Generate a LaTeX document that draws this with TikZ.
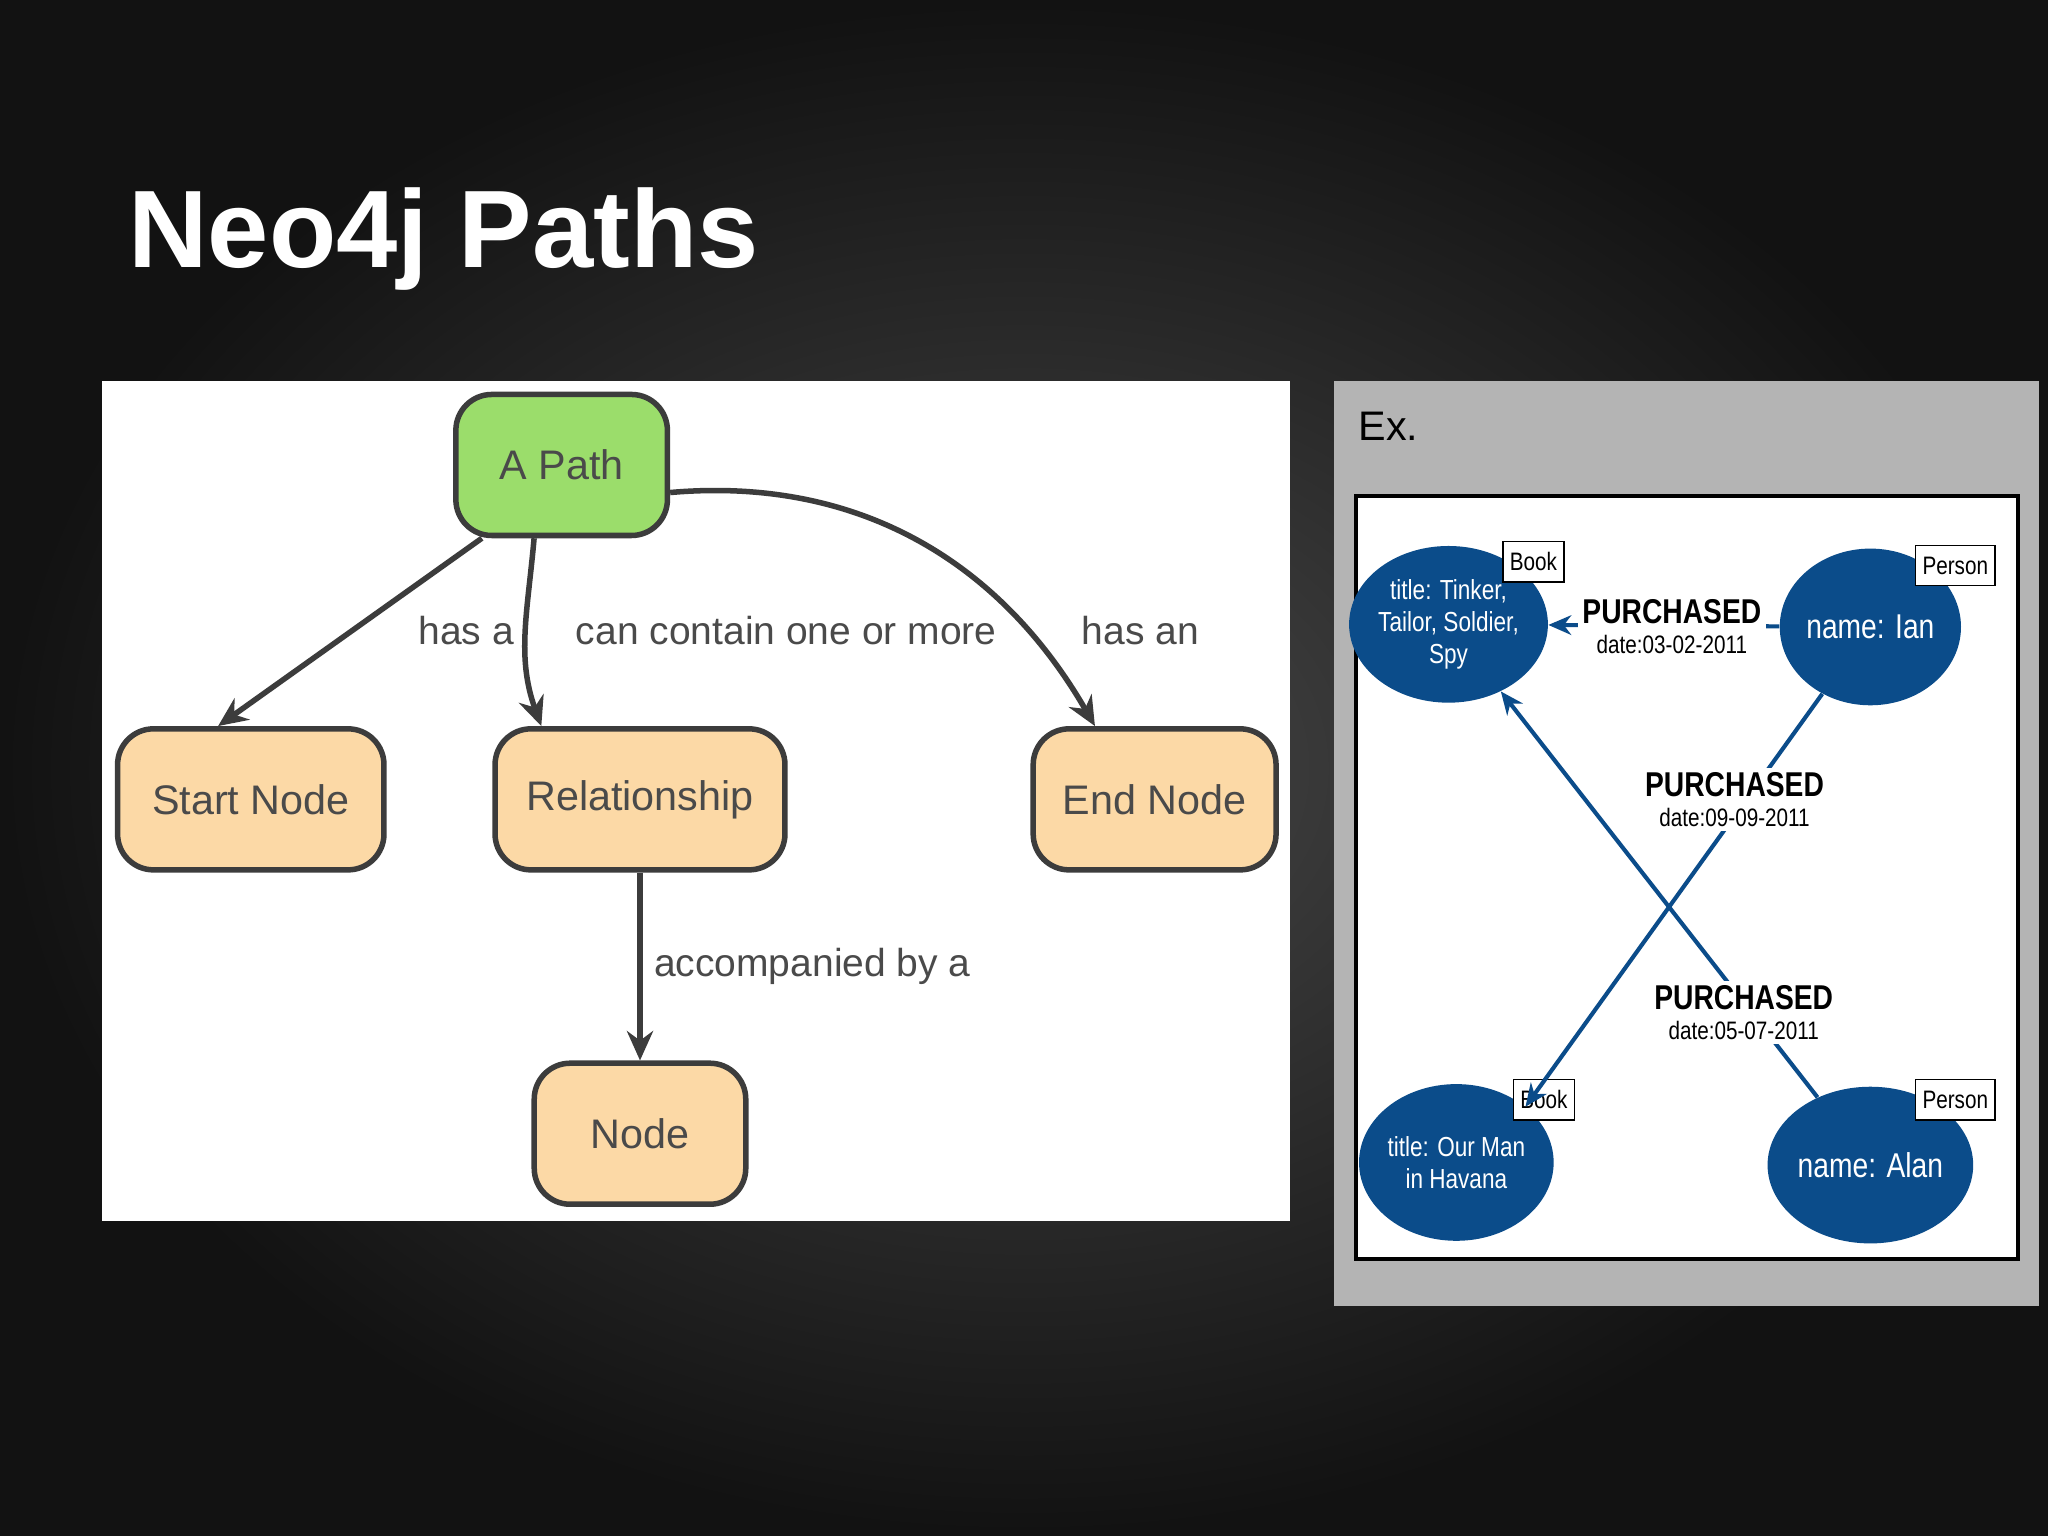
\documentclass[tikz,border=0pt]{standalone}
\usepackage{fontspec}
\setmainfont{Liberation Sans}
\newfontfamily\narrowfont{Liberation Sans}[FakeStretch=0.82]
\usetikzlibrary{arrows.meta,shapes.geometric}

\definecolor{pathgreen}{HTML}{9BDD6B}
\definecolor{peach}{HTML}{FCD9A6}
\definecolor{edgegray}{HTML}{3C3C3C}
\definecolor{txtgray}{HTML}{4A4A4A}
\definecolor{neoblue}{HTML}{0B4C8A}
\definecolor{panelgray}{HTML}{B4B4B4}

\tikzset{
  box/.style={draw=edgegray, line width=2.4pt, rounded corners=0.55cm,
    fill=peach, text=txtgray, font=\fontsize{18}{20}\selectfont},
  link/.style={draw=edgegray, line width=2.4pt, -{Stealth[length=0.45cm,width=0.4cm]}},
  lab/.style={text=txtgray, font=\fontsize{17}{20}\selectfont},
  entity/.style={ellipse, fill=neoblue, text=white, align=center,
    minimum width=2.7cm, minimum height=2.4cm, inner sep=0pt,
    font=\narrowfont\fontsize{12}{14}\selectfont},
  tag/.style={draw=black, fill=white, line width=0.6pt, minimum height=0.62cm,
    inner sep=3pt, font=\narrowfont\fontsize{11}{12}\selectfont},
  buy/.style={draw=neoblue, line width=1.8pt, -{Stealth[length=0.35cm,width=0.3cm]}},
  buylab/.style={fill=white, align=center, inner sep=2pt,
    font=\narrowfont\fontsize{11}{13}\selectfont}
}

\begin{document}
\begin{tikzpicture}[x=0.02cm, y=-0.02cm]
  \useasboundingbox (0,0) rectangle (1568,1176);
  \shade[inner color=black!72, outer color=black!93] (0,0) rectangle (1568,1176);

  \node[anchor=west, text=white, font=\bfseries\fontsize{48}{52}\selectfont]
    (title) at (92,183) {Neo4j Paths};

  % left panel
  \fill[white] (78,292) rectangle (988,935);
  \node[box, fill=pathgreen, minimum width=3.24cm, minimum height=2.16cm]
    (path) at (430,356) {A Path};
  \node[box, minimum width=4.08cm, minimum height=2.16cm] (start) at (192,612) {Start Node};
  \node[box, minimum width=4.44cm, minimum height=2.16cm] (rel) at (490,612) {Relationship};
  \node[box, minimum width=3.72cm, minimum height=2.16cm] (end) at (884,612) {End Node};
  \node[box, minimum width=3.24cm, minimum height=2.16cm] (node) at (490,868) {Node};

  \draw[link] (path.south west) ++(22,0) -- ([xshift=45]start.north west);
  \draw[link] ([xshift=-12]path.south) to[out=265, in=110] ([xshift=-43]rel.north);
  \draw[link] ([yshift=-12]path.east) to[out=5, in=120] ([xshift=-26]end.north);
  \draw[link] (rel) -- (node);

  \node[lab] (l1) at (357,483) {has a};
  \node[lab] (l2) at (602,483) {can contain one or more};
  \node[lab] (l3) at (873,483) {has an};
  \node[lab] (l4) at (622,740) {accompanied by a};

  % right panel
  \fill[panelgray] (1021,292) rectangle (1561,1000);
  \node[anchor=west, font=\fontsize{18}{20}\selectfont] (ex) at (1034,326) {Ex.};
  \draw[fill=white, line width=1.6pt] (1038,380) rectangle (1545,964);

  \node[entity] (tinker) at (1109,478) {title: Tinker,\\Tailor, Soldier,\\Spy};
  \node[entity] (ian) at (1432,480) {\fontsize{15}{17}\selectfont name: Ian};
  \node[entity] (havana) at (1115,890) {title: Our Man\\in Havana};
  \node[entity] (alan) at (1432,892) {\fontsize{15}{17}\selectfont name: Alan};

  \node[tag] (t1) at (1174,430) {Book};
  \node[tag] (t2) at (1497,433) {Person};
  \node[tag] (t3) at (1182,842) {Book};
  \node[tag] (t4) at (1497,842) {Person};

  \draw[buy] (ian) -- (tinker);
  \draw[buy] (ian) -- (havana.north east);
  \draw[buy] (alan) -- (tinker);

  \node[buylab] (p1) at (1280,480) {{\bfseries\fontsize{15}{17}\selectfont PURCHASED}\\date:03-02-2011};
  \node[buylab] (p2) at (1328,612) {{\bfseries\fontsize{15}{17}\selectfont PURCHASED}\\date:09-09-2011};
  \node[buylab] (p3) at (1335,775) {{\bfseries\fontsize{15}{17}\selectfont PURCHASED}\\date:05-07-2011};
\end{tikzpicture}
\end{document}
